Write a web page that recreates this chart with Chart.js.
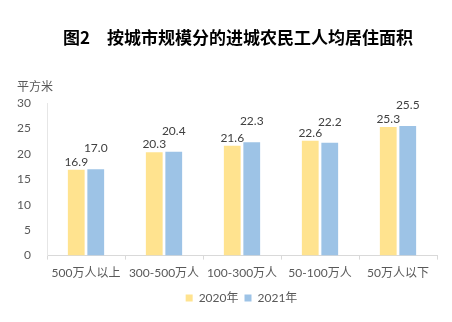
<!DOCTYPE html>
<html>
<head>
<meta charset="utf-8">
<script src="https://cdn.jsdelivr.net/npm/chart.js@4"></script>
<style>
    html, body { margin: 0; padding: 0; background: #fff; }
    #wrap { width: 452px; height: 322px; }
</style>
</head>
<body>
<div id="wrap"><canvas id="myBarChart" width="452" height="322"></canvas></div>
<script>
const categories = ['500万人以上', '300-500万人', '100-300万人', '50-100万人', '50万人以下'];
const area2020 = [16.9, 20.3, 21.6, 22.6, 25.3];
const area2021 = [17.0, 20.4, 22.3, 22.2, 25.5];
const seriesNames = ['2020年', '2021年'];
const yTicks = [0, 5, 10, 15, 20, 25, 30];
const chartTitle = '图2\u3000按城市规模分的进城农民工人均居住面积';

const cjkFont = "Lato, 'Noto Sans CJK SC', sans-serif";

// value labels above bars, the 2021 ones sit higher like in the original
const valueLabels = {
    id: 'valueLabels',
    afterDatasetsDraw(chart) {
        const ctx = chart.ctx;
        const lift = [8, 21];
        ctx.save();
        ctx.font = '12px ' + cjkFont;
        ctx.fillStyle = '#404040';
        ctx.textAlign = 'center';
        ctx.textBaseline = 'middle';
        chart.data.datasets.forEach((ds, i) => {
            chart.getDatasetMeta(i).data.forEach((bar, j) => {
                ctx.fillText(ds.data[j].toFixed(1), bar.x, bar.y - lift[i]);
            });
        });
        ctx.restore();
    }
};

// title (a bit right of centre) and the unit label over the y axis
const headerText = {
    id: 'headerText',
    afterDraw(chart) {
        const ctx = chart.ctx;
        ctx.save();
        ctx.font = "bold 17px 'Noto Sans CJK SC', sans-serif";
        ctx.fillStyle = '#000';
        ctx.textAlign = 'center';
        ctx.textBaseline = 'middle';
        ctx.fillText(chartTitle, 238, 38);

        ctx.font = '12px ' + cjkFont;
        ctx.fillStyle = '#595959';
        ctx.textAlign = 'left';
        ctx.fillText('平方米', 17, chart.chartArea.top - 16);
        ctx.restore();
    }
};

// the legend in the original sits right of the plot centre
const legendShift = {
    id: 'legendShift',
    afterLayout(chart) {
        chart.legend.left += 23;
        chart.legend.right += 23;
    }
};

const barConfig = {
    type: 'bar',
    data: {
        labels: categories,
        datasets: [
            {
                label: seriesNames[0],
                data: area2020,
                backgroundColor: '#FFE38F',
                barPercentage: 0.86,
                categoryPercentage: 0.5
            },
            {
                label: seriesNames[1],
                data: area2021,
                backgroundColor: '#9DC3E6',
                barPercentage: 0.86,
                categoryPercentage: 0.5
            }
        ]
    },
    options: {
        responsive: false,
        animation: false,
        layout: {
            padding: { left: 0, right: 15, top: 103, bottom: 8 }
        },
        scales: {
            x: {
                grid: {
                    offset: true,
                    drawOnChartArea: false,
                    tickLength: 4,
                    color: '#D9D9D9'
                },
                border: { color: '#D9D9D9' },
                ticks: {
                    color: '#595959',
                    padding: 6,
                    maxRotation: 0,
                    autoSkip: false,
                    font: { size: 12, family: cjkFont }
                }
            },
            y: {
                min: 0,
                max: 30,
                afterBuildTicks: (scale) => { scale.ticks = yTicks.map(v => ({ value: v })); },
                afterFit: (scale) => { scale.width = 47; },
                grid: { display: false },
                border: { color: '#E6E6E6' },
                ticks: {
                    color: '#595959',
                    padding: 8,
                    font: { size: 12, family: cjkFont }
                }
            }
        },
        plugins: {
            title: { display: false },
            legend: {
                position: 'bottom',
                labels: {
                    color: '#595959',
                    boxWidth: 7,
                    boxHeight: 7,
                    padding: 6,
                    font: { size: 12, family: cjkFont }
                }
            },
            tooltip: { enabled: false }
        }
    },
    plugins: [valueLabels, headerText, legendShift]
};

const myBarChart = new Chart(document.getElementById('myBarChart').getContext('2d'), barConfig);
</script>
</body>
</html>
